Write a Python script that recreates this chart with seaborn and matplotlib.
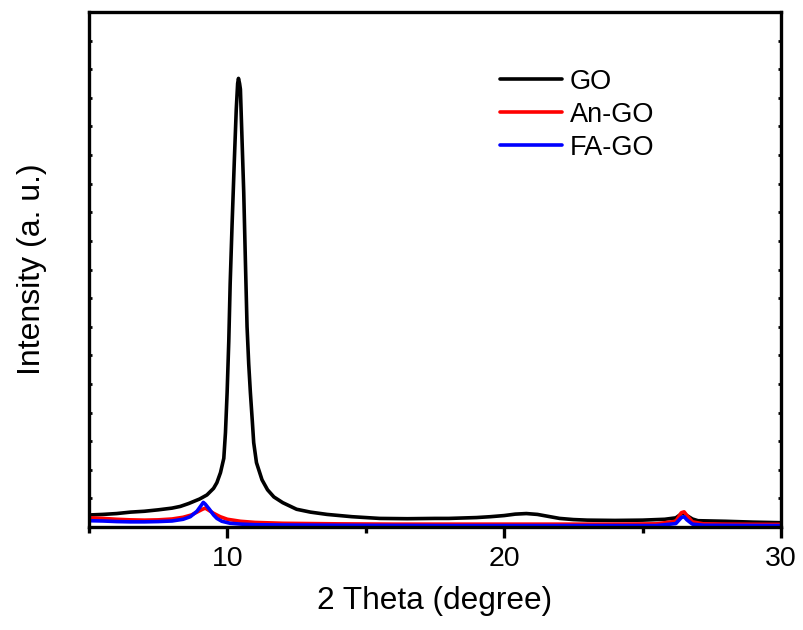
import matplotlib
matplotlib.use("Agg")
import matplotlib.pyplot as plt
import seaborn as sns
import pandas as pd
from matplotlib.ticker import MultipleLocator

# ---- data ----
go_x = [5.0, 5.5, 6.0, 6.5, 7.0, 7.5, 8.0, 8.3, 8.6, 9.0, 9.26, 9.5, 9.62, 9.75, 9.87,
        9.93, 9.99, 10.05, 10.1, 10.17, 10.25, 10.32, 10.37, 10.40, 10.44, 10.47, 10.52,
        10.59, 10.65, 10.71, 10.77, 10.83, 10.9, 10.95, 11.05, 11.25, 11.45, 11.68, 12.0,
        12.5, 13.0, 13.6, 14.5, 15.5, 16.5, 17.5, 18.0, 19.0, 19.5, 20.0, 20.4, 20.8, 21.2,
        21.6, 22.0, 22.5, 23.0, 24.0, 25.0, 25.8, 26.2, 26.4, 26.5, 26.6, 26.8, 27.0, 28.0,
        29.0, 30.0]
go_y = [0.42, 0.44, 0.47, 0.52, 0.55, 0.60, 0.66, 0.72, 0.82, 0.98, 1.12, 1.35, 1.55, 1.90, 2.40,
        3.3, 4.7, 6.5, 8.5, 10.6, 12.8, 14.6, 15.5, 15.68, 15.5, 15.3, 13.8,
        11.7, 9.3, 7.0, 5.7, 4.7, 3.7, 2.95, 2.25, 1.65, 1.30, 1.05, 0.85,
        0.62, 0.52, 0.44, 0.36, 0.30, 0.29, 0.30, 0.30, 0.33, 0.36, 0.40, 0.45, 0.47, 0.44,
        0.37, 0.30, 0.26, 0.24, 0.23, 0.24, 0.27, 0.32, 0.46, 0.48, 0.40, 0.28, 0.22, 0.20,
        0.17, 0.15]

an_x = [5.0, 5.5, 6.0, 6.5, 7.0, 7.5, 8.0, 8.4, 8.7, 8.9, 9.1, 9.2, 9.3, 9.5, 9.74, 10.0,
        10.47, 11.0, 12.0, 14.0, 16.0, 18.0, 20.0, 22.0, 24.0, 25.5, 26.2, 26.4, 26.5, 26.6,
        26.8, 27.2, 28.0, 30.0]
an_y = [0.32, 0.30, 0.27, 0.25, 0.24, 0.25, 0.28, 0.34, 0.42, 0.52, 0.62, 0.66, 0.60, 0.48, 0.36, 0.27,
        0.20, 0.16, 0.13, 0.11, 0.10, 0.10, 0.10, 0.10, 0.10, 0.11, 0.20, 0.50, 0.53, 0.40,
        0.18, 0.11, 0.10, 0.09]

fa_x = [5.0, 5.5, 6.0, 6.5, 7.0, 7.5, 8.0, 8.4, 8.66, 8.9, 9.05, 9.13, 9.2, 9.35, 9.5, 9.62,
        9.8, 10.1, 10.5, 11.0, 12.0, 14.0, 18.0, 22.0, 25.5, 26.2, 26.4, 26.5, 26.6, 26.8,
        27.2, 30.0]
fa_y = [0.22, 0.21, 0.19, 0.18, 0.18, 0.19, 0.21, 0.27, 0.36, 0.55, 0.75, 0.86, 0.80, 0.62, 0.42, 0.30,
        0.20, 0.13, 0.10, 0.08, 0.07, 0.06, 0.05, 0.05, 0.05, 0.12, 0.33, 0.36, 0.25, 0.10,
        0.06, 0.05]

labels = ["GO", "An-GO", "FA-GO"]
colors = ["#000000", "#ff0000", "#0000ff"]
xticks = [10, 20, 30]

frames = []
for name, xs, ys in zip(labels, [go_x, an_x, fa_x], [go_y, an_y, fa_y]):
    frames.append(pd.DataFrame({"theta": xs, "I": ys, "sample": name}))
df = pd.concat(frames, ignore_index=True)

sns.set_theme(style="ticks")
plt.rcParams["font.family"] = ["Liberation Sans", "DejaVu Sans"]
plt.rcParams["text.color"] = "black"
plt.rcParams["axes.labelcolor"] = "black"
plt.rcParams["xtick.color"] = "black"
plt.rcParams["ytick.color"] = "black"

fig = plt.figure(figsize=(8.04, 6.30), dpi=100)
ax = fig.add_axes([89 / 804, 1 - 527 / 630, (781 - 89) / 804, (527 - 12) / 630])

sns.lineplot(data=df, x="theta", y="I", hue="sample", hue_order=labels,
             palette=dict(zip(labels, colors)), estimator=None, sort=False,
             linewidth=2.6, ax=ax)

ax.set_xlim(5, 30)
ax.set_ylim(0, 18)
ax.set_xticks(xticks)
ax.set_xticklabels([str(t) for t in xticks])
ax.xaxis.set_minor_locator(MultipleLocator(5))
ax.yaxis.set_major_locator(MultipleLocator(1))
ax.set_yticklabels([])

for s in ax.spines.values():
    s.set_linewidth(2.4)
    s.set_color("black")

ax.tick_params(axis="x", which="major", direction="out", length=8, width=2.4,
               labelsize=20.5, pad=6, top=False, colors="black")
ax.tick_params(axis="x", which="minor", direction="out", length=4, width=2.4, top=False)
ax.tick_params(axis="y", which="major", direction="in", length=2.5, width=2,
               left=True, right=True, labelleft=False)

ax.set_xlabel("2 Theta (degree)", fontsize=22.8, labelpad=10, color="black")
ax.set_ylabel("Intensity (a. u.)", fontsize=23, labelpad=30, color="black")

leg = ax.legend(loc="upper left", bbox_to_anchor=(0.594, 0.89), frameon=False,
                fontsize=19.5, handlelength=2.3, handletextpad=0.28,
                labelspacing=0.26, borderpad=0, borderaxespad=0)
for h in leg.get_lines():
    h.set_linewidth(2.6)
for t in leg.get_texts():
    t.set_color("black")

fig.savefig("out.png", dpi=100)
